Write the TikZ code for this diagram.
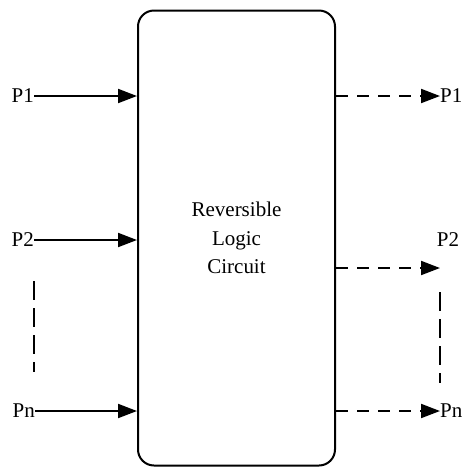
\documentclass[tikz,border=0pt]{standalone}
\usepackage{fontspec}
\setmainfont{Liberation Serif}
\usepackage{tikz}
\usetikzlibrary{arrows.meta,positioning,calc}
\tikzstyle{arrow} = [line width=2pt,-{Triangle[length=19pt,width=14pt]}]
\tikzstyle{dasharrow} = [arrow, dash pattern=on 12pt off 9pt]
\tikzstyle{vdots} = [line width=2pt, dash pattern=on 19pt off 8pt]

\begin{document}
\begin{tikzpicture}[x=1pt, y=-1pt,
    circuit/.style={rectangle, draw, line width=2pt, rounded corners=16pt, minimum width=197pt, minimum height=455pt, align=center, font=\fontsize{21}{28.5}\selectfont},
    port/.style={inner sep=0pt, font=\fontsize{21}{24}\selectfont}]
    \useasboundingbox (0,0) rectangle (467,467);

    % Circuit block
    \node[circuit] (rlc) at (236.5,238) {Reversible\\Logic\\Circuit};

    % Inputs
    \node[port, anchor=east] (in1) at (34,96) {P1};
    \node[port, anchor=east] (in2) at (34,240) {P2};
    \node[port, anchor=east] (inn) at (35,411) {Pn};
    \draw[arrow] (in1.east) -- (in1 -| rlc.west);
    \draw[arrow] (in2.east) -- (in2 -| rlc.west);
    \draw[arrow] (inn.east) -- (inn -| rlc.west);
    \coordinate (ldots_a) at (34,281);
    \coordinate (ldots_b) at (34,372);
    \draw[vdots] (ldots_a) -- (ldots_b);

    % Outputs
    \node[port, anchor=west] (out1) at (440,96) {P1};
    \coordinate (o2) at (440,268);
    \node[port] (out2) at (448,240) {P2};
    \node[port, anchor=west] (outn) at (440,411) {Pn};
    \draw[dasharrow] (rlc.east |- out1) -- (out1.west);
    \draw[dasharrow] (rlc.east |- o2) -- (o2);
    \draw[dasharrow] (rlc.east |- outn) -- (outn.west);
    \coordinate (rdots_a) at (440,292);
    \coordinate (rdots_b) at (440,383);
    \draw[vdots] (rdots_a) -- (rdots_b);
\end{tikzpicture}
\end{document}
